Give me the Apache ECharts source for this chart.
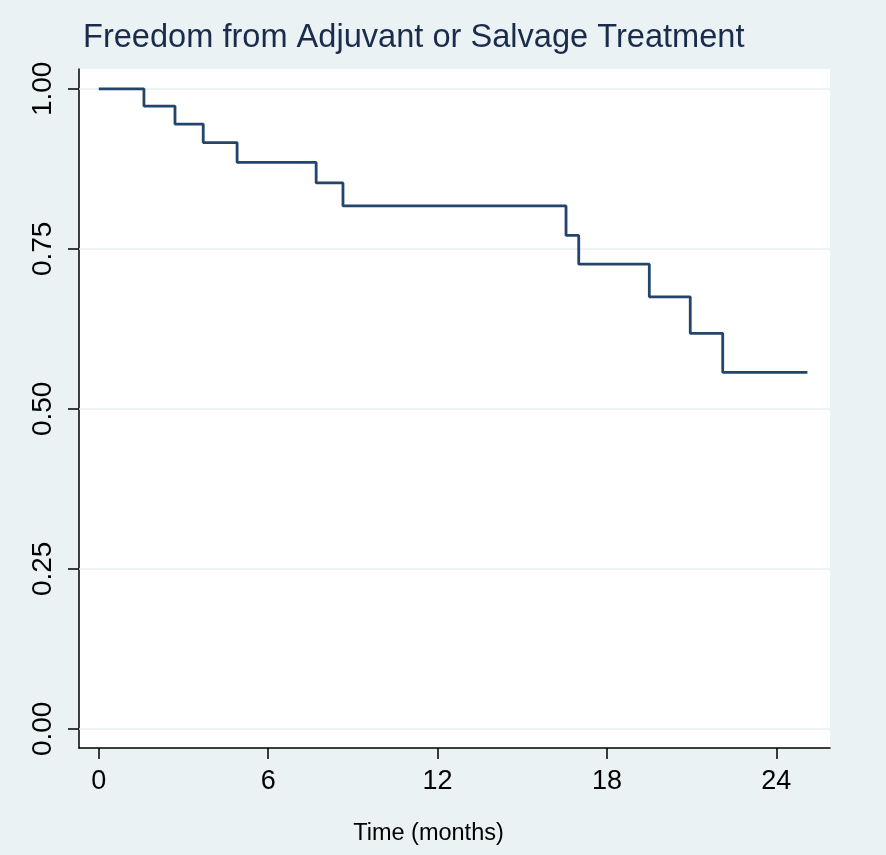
<!DOCTYPE html>
<html>
<head>
<meta charset="utf-8">
<script src="https://cdn.jsdelivr.net/npm/echarts@6/dist/echarts.min.js"></script>
<style>
  html, body { margin: 0; padding: 0; background: #eaf2f3; }
  #main { width: 886px; height: 855px; }
</style>
</head>
<body>
<div id="main"></div>
<script>
// step times (months) and survival estimates
var months = [0, 1.6, 2.7, 3.7, 4.9, 7.7, 8.65, 16.55, 17.0, 19.5, 20.95, 22.1, 25.1];
var survival = [1.0, 0.973, 0.945, 0.916, 0.885, 0.853, 0.817, 0.771, 0.726, 0.675, 0.618, 0.557, 0.557];
var xTicks = [0, 6, 12, 18, 24];
var yTicks = [0, 0.25, 0.5, 0.75, 1];

var points = [];
for (var i = 0; i < months.length; i++) {
    points.push([months[i], survival[i]]);
}
var gridLines = [];
for (var j = 0; j < yTicks.length; j++) {
    gridLines.push({ yAxis: yTicks[j] });
}

var myChart = echarts.init(document.getElementById('main'));
var option = {
    backgroundColor: '#eaf2f3',
    animation: false,
    title: {
        text: 'Freedom from Adjuvant or Salvage Treatment',
        left: 78,
        top: 17,
        textStyle: {
            fontFamily: 'Liberation Sans, Arial, sans-serif',
            fontSize: 32.6,
            fontWeight: 'normal',
            color: '#1a2b4c'
        }
    },
    grid: {
        left: 79,
        right: 56,
        top: 69,
        bottom: 107,
        show: true,
        backgroundColor: '#ffffff',
        borderWidth: 0
    },
    xAxis: {
        type: 'value',
        min: -0.7,
        max: 25.9,
        name: 'Time (months)',
        nameLocation: 'middle',
        nameGap: 74,
        nameTextStyle: {
            fontFamily: 'Liberation Sans, Arial, sans-serif',
            fontSize: 23.5,
            color: '#000',
            padding: [0, 52, 0, 0]
        },
        axisLine: { show: true, onZero: false, lineStyle: { color: '#000', width: 1.5 } },
        axisTick: { show: true, length: 11, customValues: xTicks, lineStyle: { color: '#000', width: 1.5 } },
        axisLabel: {
            customValues: xTicks,
            margin: 20,
            fontFamily: 'Liberation Sans, Arial, sans-serif',
            fontSize: 27,
            color: '#000'
        },
        splitLine: { show: false }
    },
    yAxis: {
        type: 'value',
        min: -0.03,
        max: 1.031,
        axisLine: { show: true, onZero: false, lineStyle: { color: '#000', width: 1.5 } },
        axisTick: { show: true, length: 11, customValues: yTicks, lineStyle: { color: '#000', width: 1.5 } },
        axisLabel: {
            customValues: yTicks,
            rotate: 90,
            margin: 22,
            formatter: function (v) { return v.toFixed(2); },
            fontFamily: 'Liberation Sans, Arial, sans-serif',
            fontSize: 28,
            color: '#000'
        },
        splitLine: { show: false }
    },
    series: [{
        name: 'KM',
        type: 'line',
        step: 'end',
        data: points,
        showSymbol: false,
        symbol: 'none',
        lineStyle: { color: '#23456b', width: 2.8 },
        markLine: {
            silent: true,
            symbol: 'none',
            label: { show: false },
            lineStyle: { color: '#e4eff0', width: 1.5, type: 'solid' },
            data: gridLines,
            z: 1
        },
        z: 3
    }]
};
myChart.setOption(option);
</script>
</body>
</html>
